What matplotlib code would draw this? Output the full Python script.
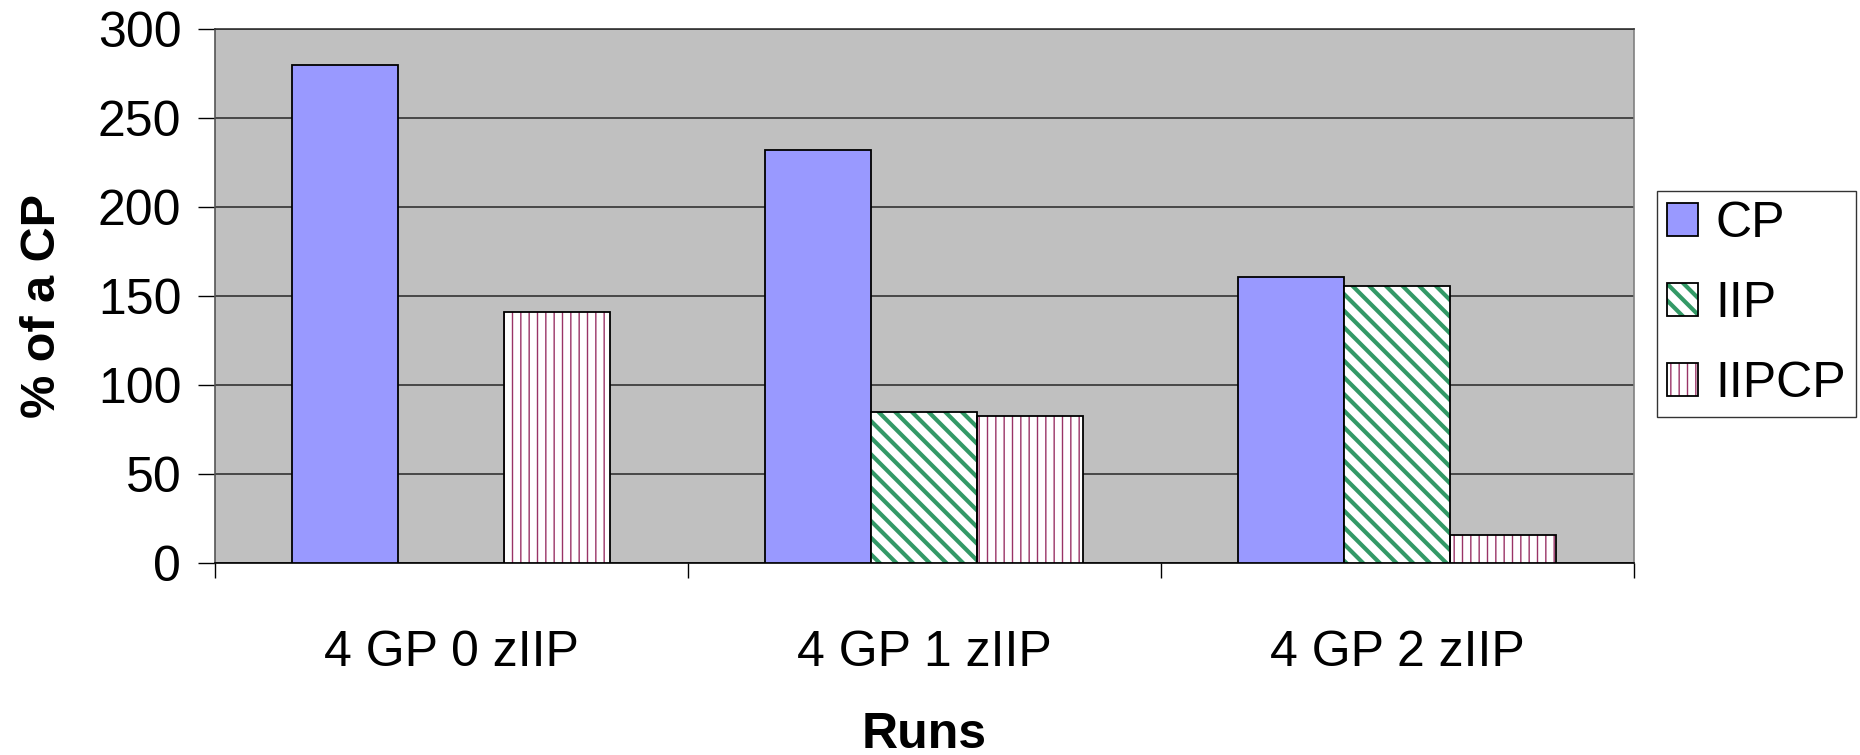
import numpy as np
import matplotlib
matplotlib.use("Agg")
import matplotlib.pyplot as plt

# chart data
categories = ["4 GP 0 zIIP", "4 GP 1 zIIP", "4 GP 2 zIIP"]
series_names = ["CP", "IIP", "IIPCP"]
cp_vals = [280, 232, 161]
iip_vals = [np.nan, 85, 156]  # no IIP bar in the first group
iipcp_vals = [141, 83, 16]
y_ticks = [0, 50, 100, 150, 200, 250, 300]

plt.rcParams["font.family"] = ["Liberation Sans", "DejaVu Sans"]
plt.rcParams["hatch.linewidth"] = 3.0

fig = plt.figure(figsize=(18.6, 7.55), dpi=100)
ax = fig.add_axes([0.1154, 0.254, 0.7631, 0.707])
ax.set_facecolor("#C0C0C0")

x = np.arange(len(categories))
w = 0.224

# --- bars ---
cp_bars = ax.bar(x - w, cp_vals, w, color="#9999FF", edgecolor="black", linewidth=1.3, zorder=3)

iip_bars = ax.bar(x, iip_vals, w, color="white", edgecolor="#339966", hatch="\\\\", linewidth=0, zorder=3)
iip_edges = ax.bar(x, iip_vals, w, fill=False, edgecolor="black", linewidth=1.3, zorder=4)

iipcp_bars = ax.bar(x + w, iipcp_vals, w, color="white", edgecolor="#993366", hatch="||", linewidth=0, zorder=3)
iipcp_edges = ax.bar(x + w, iipcp_vals, w, fill=False, edgecolor="black", linewidth=1.3, zorder=4)


def set_hatch_lw(patch, lw):
    # per-artist hatch width only exists in newer matplotlib
    try:
        patch.set_hatch_linewidth(lw)
    except AttributeError:
        pass


# thick green stripes, thin magenta ones
for p in iip_bars.patches:
    set_hatch_lw(p, 3.0)
for p in iipcp_bars.patches:
    set_hatch_lw(p, 1.0)

# --- axes styling ---
ax.set_xlim(-0.5, 2.5)
ax.set_ylim(0, 300)
ax.set_yticks(y_ticks)
ax.tick_params(axis="y", labelsize=36, length=12, width=1, direction="out", pad=12, colors="black")
ax.set_xticks(x)
ax.set_xticklabels(categories)
ax.tick_params(axis="x", which="major", labelsize=36, length=0, pad=48)
ax.set_xticks([-0.5, 0.5, 1.5, 2.5], minor=True)
ax.tick_params(axis="x", which="minor", length=11, width=1, direction="out", color="black")

ax.yaxis.grid(True, color="#333333", linewidth=1.2, zorder=1)
ax.set_axisbelow(True)
ax.spines["top"].set_color("#333333")
ax.spines["right"].set_color("#808080")
ax.spines["left"].set_color("#555555")
ax.spines["bottom"].set_color("black")
for s in ax.spines.values():
    s.set_linewidth(1.2)

ax.set_ylabel("% of a CP", fontsize=35, fontweight="bold")
ax.yaxis.label.set_va("center")
ax.yaxis.set_label_coords(-0.121, 0.482)
ax.set_xlabel("Runs", fontsize=36, fontweight="bold")
ax.xaxis.label.set_va("center")
ax.xaxis.set_label_coords(0.5, -0.322)

# --- legend ---
leg = ax.legend(
    [cp_bars, (iip_bars, iip_edges), (iipcp_bars, iipcp_edges)],
    series_names,
    loc="upper left",
    bbox_to_anchor=(0.8909, 0.747),
    bbox_transform=fig.transFigure,
    fontsize=36,
    frameon=True,
    fancybox=False,
    edgecolor="black",
    handlelength=0.62,
    handleheight=0.62,
    handletextpad=0.35,
    borderpad=0.2,
    labelspacing=0.68,
    borderaxespad=0,
)
leg.get_frame().set_linewidth(1.0)
set_hatch_lw(leg.legend_handles[2], 1.0)

fig.savefig("out.png", dpi=100)
